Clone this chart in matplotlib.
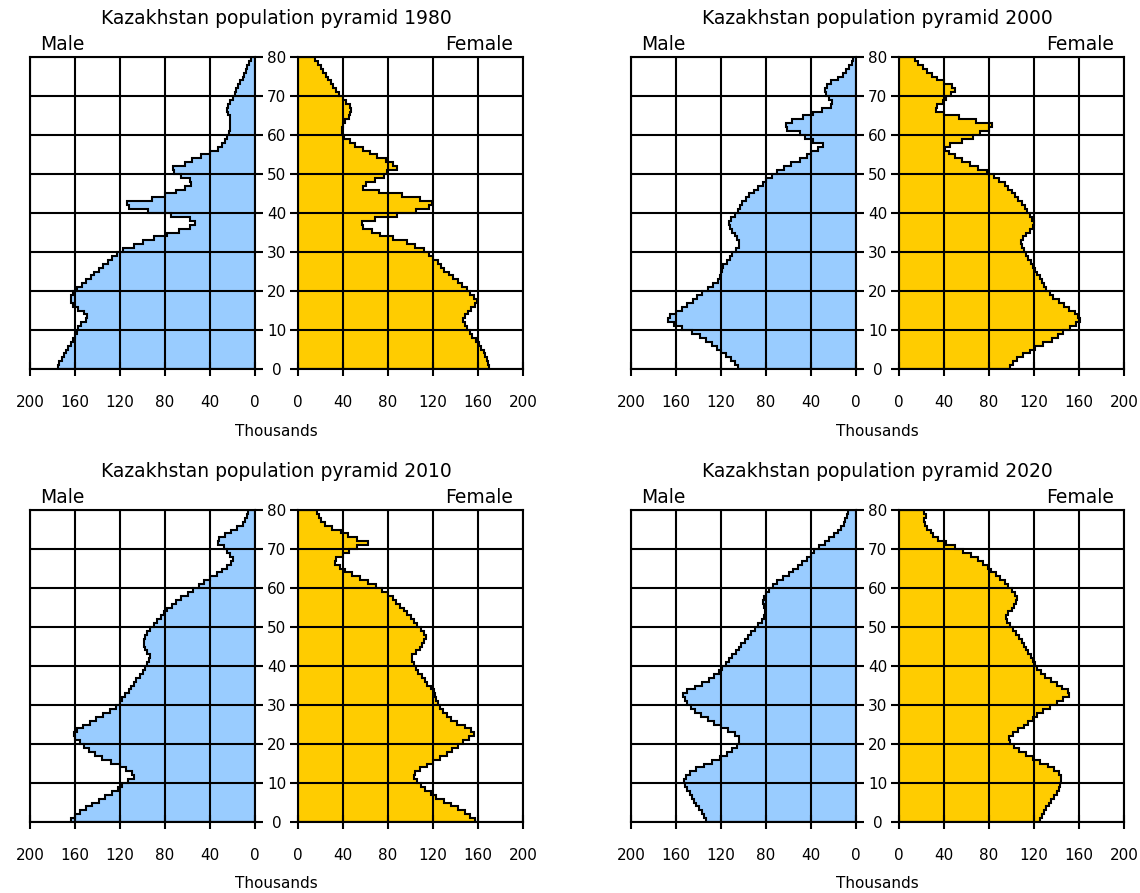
import numpy as np
import matplotlib.pyplot as plt

# single-year ages 0..79, thousands of people
age_edges = np.arange(0, 81)
years = [1980, 2000, 2010, 2020]

male_1980 = [175, 174, 172, 170, 168, 166, 164, 162, 160, 158,
             157, 155, 150, 149, 152, 157, 162, 164, 164, 162,
             158, 154, 150, 146, 143, 139, 135, 131, 127, 123,
             117, 108, 100, 90, 78, 68, 58, 53, 58, 75,
             95, 112, 114, 92, 80, 70, 62, 57, 58, 66,
             72, 73, 62, 56, 48, 40, 33, 29, 27, 25,
             23, 22, 22, 22, 22, 24, 25, 24, 22, 20,
             18, 17, 15, 13, 11, 10, 8, 7, 5, 4]
female_1980 = [170, 169, 168, 166, 165, 163, 161, 158, 155, 153,
               150, 148, 147, 148, 151, 154, 157, 159, 156, 153,
               150, 146, 142, 138, 134, 130, 127, 124, 120, 116,
               112, 104, 97, 84, 73, 66, 58, 57, 68, 88,
               105, 116, 119, 108, 92, 72, 58, 60, 68, 76,
               79, 88, 84, 78, 70, 64, 58, 51, 46, 41,
               39, 39, 40, 42, 45, 46, 47, 46, 43, 40,
               36, 34, 31, 29, 27, 25, 22, 20, 18, 15]

male_2000 = [105, 108, 111, 116, 120, 124, 128, 133, 139, 146,
             155, 162, 167, 165, 160, 155, 150, 145, 141, 137,
             132, 127, 123, 121, 120, 119, 118, 115, 112, 110,
             107, 104, 104, 106, 108, 110, 112, 113, 111, 108,
             105, 103, 101, 98, 95, 91, 87, 83, 80, 75,
             70, 64, 58, 50, 44, 40, 34, 29, 38, 45,
             50, 61, 62, 57, 47, 38, 30, 22, 21, 24,
             27, 28, 26, 22, 16, 12, 9, 6, 4, 3]
female_2000 = [99, 101, 105, 110, 116, 121, 128, 136, 141, 146,
               152, 157, 161, 159, 156, 151, 147, 142, 137, 134,
               131, 129, 127, 125, 123, 121, 119, 117, 115, 113,
               111, 109, 108, 110, 113, 116, 119, 120, 118, 116,
               114, 112, 109, 106, 103, 100, 97, 94, 89, 84,
               78, 70, 63, 56, 50, 44, 41, 45, 56, 66,
               72, 80, 83, 68, 53, 40, 33, 34, 39, 42,
               46, 50, 47, 40, 34, 29, 25, 21, 17, 14]

male_2010 = [164, 160, 156, 150, 145, 139, 133, 127, 122, 118,
             113, 108, 109, 115, 120, 128, 136, 142, 148, 152,
             156, 160, 161, 158, 153, 147, 141, 135, 129, 124,
             120, 118, 116, 112, 110, 108, 106, 102, 100, 98,
             96, 94, 93, 96, 98, 99, 99, 98, 96, 93,
             90, 87, 84, 81, 78, 74, 70, 66, 60, 55,
             50, 45, 40, 34, 29, 25, 21, 20, 22, 25,
             28, 33, 32, 27, 21, 16, 11, 9, 7, 6]
female_2010 = [157, 153, 148, 142, 136, 130, 123, 118, 113, 109,
               106, 103, 104, 108, 115, 120, 126, 132, 137, 142,
               147, 152, 156, 154, 148, 141, 136, 132, 129, 126,
               124, 123, 122, 121, 118, 115, 113, 110, 107, 105,
               103, 101, 101, 105, 108, 110, 112, 114, 112, 109,
               106, 103, 100, 97, 94, 91, 87, 84, 80, 75,
               69, 62, 55, 48, 42, 37, 33, 34, 40, 45,
               52, 62, 52, 44, 38, 30, 24, 20, 19, 17]

male_2020 = [133, 135, 137, 140, 142, 144, 146, 148, 150, 152,
             153, 151, 148, 142, 135, 128, 121, 115, 110, 106,
             104, 104, 108, 114, 120, 126, 132, 138, 143, 147,
             150, 152, 154, 150, 143, 137, 131, 126, 122, 119,
             116, 113, 110, 107, 104, 102, 99, 96, 93, 90,
             87, 84, 82, 81, 81, 82, 83, 82, 80, 77,
             74, 70, 65, 60, 56, 52, 48, 44, 40, 37,
             33, 28, 24, 20, 16, 13, 11, 10, 8, 7]
female_2020 = [125, 127, 129, 131, 133, 135, 138, 140, 142, 143,
               144, 144, 142, 138, 132, 125, 119, 113, 107, 102,
               99, 98, 101, 106, 111, 115, 119, 123, 128, 134,
               140, 146, 151, 150, 145, 140, 135, 130, 126, 123,
               121, 119, 117, 115, 113, 111, 109, 107, 104, 101,
               99, 96, 95, 97, 100, 102, 104, 105, 103, 100,
               97, 94, 90, 86, 82, 79, 75, 70, 64, 57,
               50, 42, 35, 30, 28, 25, 23, 22, 24, 22]

x_ticks = [0, 40, 80, 120, 160, 200]
age_ticks = [0, 10, 20, 30, 40, 50, 60, 70, 80]

male = {1980: male_1980, 2000: male_2000, 2010: male_2010, 2020: male_2020}
female = {1980: female_1980, 2000: female_2000, 2010: female_2010, 2020: female_2020}

W, H = 1140, 893
fig = plt.figure(figsize=(W / 100, H / 100), dpi=100)
LW = 1.5


def px_axes(x0, y0, x1, y1):
    return fig.add_axes([x0 / W, 1 - y1 / H, (x1 - x0) / W, (y1 - y0) / H])


def style(ax):
    ax.set_xlim(0, 200)
    ax.set_ylim(0, 80)
    ax.set_xticks(x_ticks)
    ax.set_yticks(age_ticks)
    ax.grid(True, color='black', linewidth=LW)
    ax.set_axisbelow(False)
    for s in ax.spines.values():
        s.set_linewidth(LW)
    ax.tick_params(axis='x', direction='inout', length=10, width=LW,
                   pad=14, labelsize=11)


def panel(x0, y0, year):
    h = 312
    axm = px_axes(x0, y0, x0 + 225, y0 + h)
    axf = px_axes(x0 + 268, y0, x0 + 493, y0 + h)

    axm.stairs(male[year], age_edges, orientation='horizontal', baseline=0,
               fill=True, facecolor='#99ccff', edgecolor='black', linewidth=LW)
    axf.stairs(female[year], age_edges, orientation='horizontal', baseline=0,
               fill=True, facecolor='#ffcc00', edgecolor='black', linewidth=LW)

    style(axm)
    style(axf)
    axm.invert_xaxis()

    axm.tick_params(axis='y', left=False, labelleft=False, right=True,
                    direction='out', length=5.8, width=LW)
    axf.tick_params(axis='y', direction='out', length=5.8, width=LW,
                    pad=9.7, labelsize=11)
    for lab in axf.get_yticklabels():
        lab.set_horizontalalignment('center')

    cx = (x0 + 246.5) / W
    fig.text(cx, 1 - (y0 - 38) / H, f'Kazakhstan population pyramid {year}',
             ha='center', va='center', fontsize=13.5)
    fig.text((x0 + 10) / W, 1 - (y0 - 7) / H, 'Male',
             ha='left', va='baseline', fontsize=13.5)
    fig.text((x0 + 483) / W, 1 - (y0 - 7) / H, 'Female',
             ha='right', va='baseline', fontsize=13.5)
    fig.text(cx, 1 - (y0 + h + 62) / H, 'Thousands',
             ha='center', va='center', fontsize=11)


panel(30, 57, years[0])
panel(631, 57, years[1])
panel(30, 510, years[2])
panel(631, 510, years[3])

plt.savefig('out.png', dpi=100)
